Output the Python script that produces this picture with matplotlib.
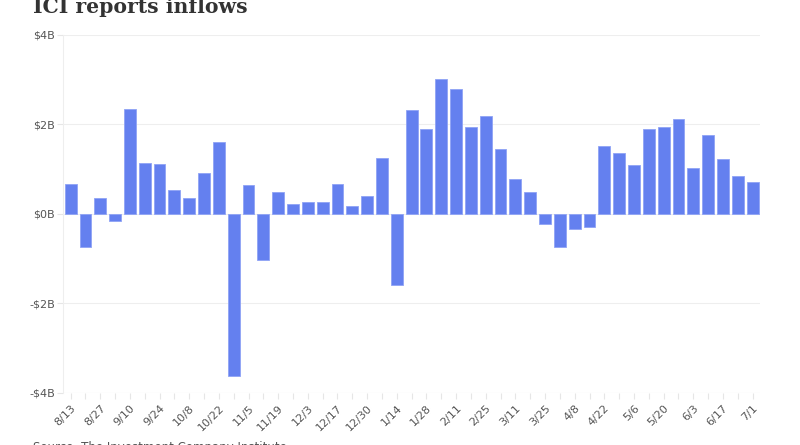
import matplotlib
matplotlib.use("Agg")
import matplotlib.pyplot as plt
import numpy as np

# weekly net flows, $ billions
labels = ["8/13", "", "8/27", "", "9/10", "", "9/24", "", "10/8", "", "10/22", "",
          "11/5", "", "11/19", "", "12/3", "", "12/17", "", "12/30", "", "1/14", "",
          "1/28", "", "2/11", "", "2/25", "", "3/11", "", "3/25", "", "4/8", "",
          "4/22", "", "5/6", "", "5/20", "", "6/3", "", "6/17", "", "7/1"]
flows = [0.66, -0.73, 0.35, -0.16, 2.35, 1.13, 1.11, 0.53, 0.36, 0.91, 1.61, -3.62,
         0.65, -1.04, 0.48, 0.22, 0.26, 0.26, 0.67, 0.17, 0.40, 1.24, -1.59, 2.32,
         1.90, 3.01, 2.78, 1.93, 2.19, 1.44, 0.77, 0.49, -0.22, -0.73, -0.35, -0.30,
         1.52, 1.35, 1.08, 1.89, 1.94, 2.12, 1.03, 1.77, 1.22, 0.85, 0.72]
y_ticks = [-4, -2, 0, 2, 4]
y_labels = ["-$4B", "-$2B", "$0B", "$2B", "$4B"]

fig = plt.figure(figsize=(8, 4.45), dpi=100)
ax = fig.add_axes([0.079, 0.117, 0.871, 0.805])

x = np.arange(len(flows))
ax.bar(x, flows, width=0.8, color="#6480EF", edgecolor="#8fa3f5", linewidth=0.6, zorder=3)

ax.set_xlim(-0.5, len(flows) - 0.5)
ax.set_ylim(-4, 4)
ax.set_yticks(y_ticks)
ax.set_yticklabels(y_labels)
ax.set_xticks(x)
ax.set_xticklabels(labels, rotation=45, ha="right", rotation_mode="anchor")

ax.grid(axis="y", color="#eeeeee", linewidth=0.8, zorder=0)
for s in ["top", "right", "bottom"]:
    ax.spines[s].set_visible(False)
ax.spines["left"].set_color("#eeeeee")
ax.axhline(-4, color="#eeeeee", linewidth=0.8, zorder=1)
ax.tick_params(axis="x", length=4, color="#e6e6e6", labelsize=8, labelcolor="#555555", pad=3)
ax.tick_params(axis="y", length=4, color="#e6e6e6", labelsize=8, labelcolor="#555555", pad=2)

fig.text(0.041, 1 - 13 / 445, "ICI reports inflows", fontsize=14.7, fontweight="bold",
         family="DejaVu Serif", color="#333333", va="baseline")
fig.text(0.041, 0.008, "Source: The Investment Company Institute", fontsize=8.5,
         color="#555555", va="top")

fig.savefig("out.png", dpi=100)
